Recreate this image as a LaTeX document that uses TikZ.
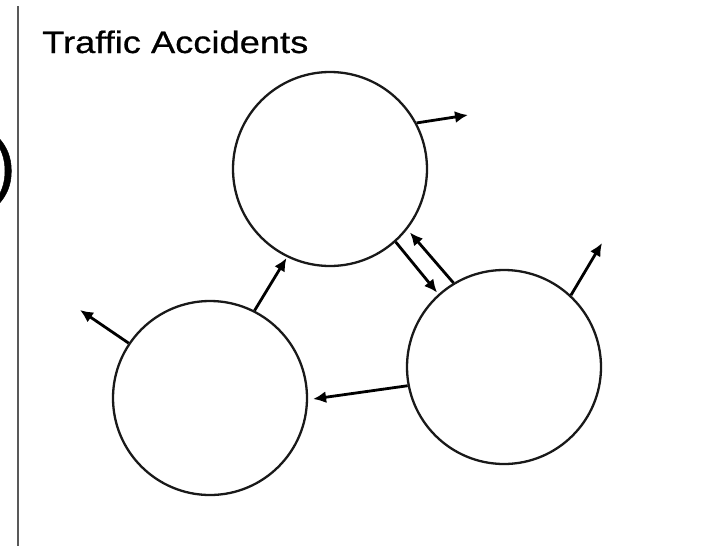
\documentclass[tikz,border=0pt]{standalone}
\usepackage{fontspec}
\setmainfont{Liberation Sans}
\newfontfamily\titlefont[FakeBold=0.6]{Liberation Sans}
\usetikzlibrary{arrows.meta}
\begin{document}
\begin{tikzpicture}[x=1pt,y=-1pt,
  bubble/.style={draw=black!90,line width=2.3pt,circle,minimum size=194pt,inner sep=0pt},
  flow/.style={line width=2.8pt,-{Latex[length=13pt,width=12pt]}},
  title/.style={font=\titlefont\fontsize{31}{34}\selectfont,inner sep=0pt,anchor=base west,xscale=1.17}]
\useasboundingbox[fill=white] (0,0) rectangle (727,546);
\begin{scope}
\clip (0,0) rectangle (727,546);
\node[font=\titlefont\fontsize{72}{76}\selectfont,inner sep=0pt,anchor=east] (paren) at (16,171) {)};
\end{scope}
\draw[black!65,line width=2.8pt] (18,6) coordinate (vtop) -- (18,546) coordinate (vbot);
\node[title] (title) at (42,53) {Traffic Accidents};
\node[bubble] (T) at (330,169) {};
\node[bubble] (BL) at (210,398) {};
\node[bubble] (R) at (504,367) {};
\coordinate (c1) at (468,115);
\coordinate (c4) at (80,310);
\coordinate (c6) at (602,243);
\draw[flow] (T.28) -- (c1);
\draw[flow,shorten >=2pt] (T.-48) -- (R.132);
\draw[flow,shorten >=4pt] (R.121) -- (T.-38);
\draw[flow,shorten >=1pt] (BL.63) -- (T.-116);
\draw[flow] (BL.146) -- (c4);
\draw[flow,shorten >=5pt] (R.-169) -- (BL.-1);
\draw[flow] (R.47) -- (c6);
\end{tikzpicture}
\end{document}
